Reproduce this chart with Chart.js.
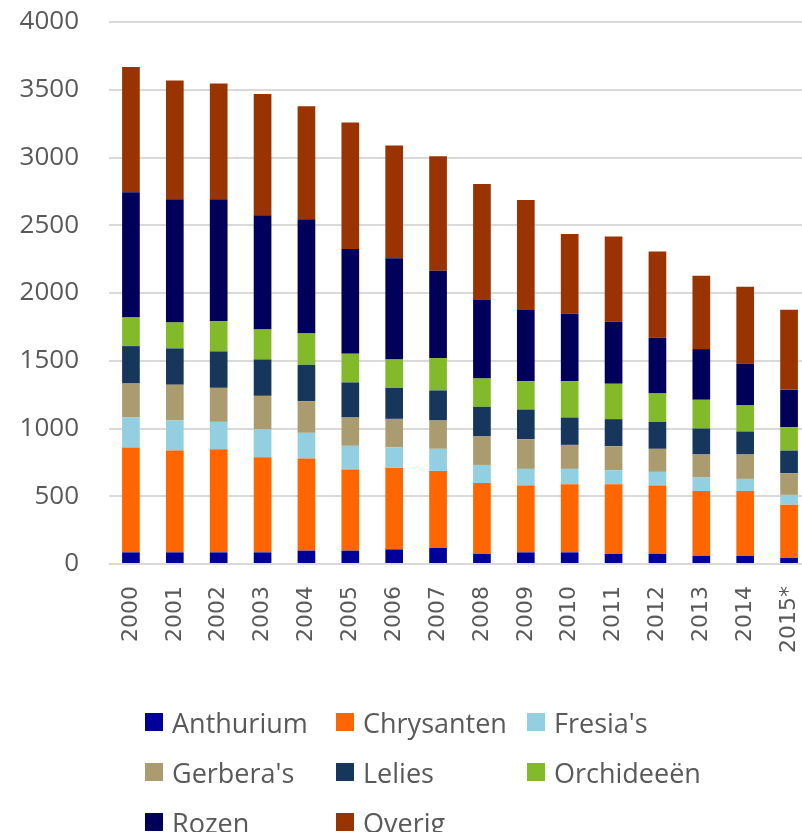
<!DOCTYPE html>
<html>
<head>
<meta charset="utf-8">
<script src="https://cdn.jsdelivr.net/npm/chart.js@4"></script>
<style>
  body { margin: 0; width: 802px; height: 832px; overflow: hidden; background: #fff; }
  #wrap { position: relative; width: 812px; height: 690px; }
  #legenda { position: absolute; left: 0; top: 0; width: 802px; height: 832px; pointer-events: none; }
  .item { position: absolute; display: flex; align-items: center; height: 36px; font-family: "Open Sans", sans-serif; font-size: 27px; color: #595959; white-space: nowrap; }
  .item span.box { display: inline-block; width: 18px; height: 18px; margin-right: 9px; }
</style>
</head>
<body>
<div id="wrap"><canvas id="grafiek" width="812" height="690"></canvas></div>
<div id="legenda"></div>
<script>
const jaren = ['2000', '2001', '2002', '2003', '2004', '2005', '2006', '2007',
               '2008', '2009', '2010', '2011', '2012', '2013', '2014', '2015*'];

const anthurium  = [86, 86, 86, 86, 99, 99, 108, 118, 74, 86, 86, 74, 74, 59, 59, 44];
const chrysanten = [774, 751, 761, 702, 679, 598, 601, 569, 524, 493, 503, 515, 505, 480, 480, 394];
const fresias    = [221, 222, 202, 205, 190, 175, 153, 163, 133, 123, 113, 103, 101, 99, 89, 72];
const gerberas   = [251, 264, 251, 248, 234, 209, 209, 209, 210, 219, 177, 177, 170, 170, 180, 160];
const lelies     = [276, 268, 269, 269, 268, 259, 229, 222, 219, 219, 202, 200, 199, 192, 170, 167];
const orchideeen = [212, 192, 224, 221, 232, 212, 210, 239, 209, 210, 269, 261, 210, 212, 192, 173];
const rozen      = [924, 909, 899, 843, 842, 773, 746, 645, 580, 525, 496, 457, 410, 374, 308, 277];
const overig     = [923, 877, 855, 894, 835, 934, 833, 845, 855, 811, 590, 630, 637, 541, 569, 590];

const yTicks = [0, 500, 1000, 1500, 2000, 2500, 3000, 3500, 4000];

const reeksen = [
    { label: 'Anthurium',  data: anthurium,  kleur: '#000099' },
    { label: 'Chrysanten', data: chrysanten, kleur: '#FF6600' },
    { label: "Fresia's",   data: fresias,    kleur: '#92CFE1' },
    { label: "Gerbera's",  data: gerberas,   kleur: '#AB9C6F' },
    { label: 'Lelies',     data: lelies,     kleur: '#16365C' },
    { label: 'Orchideeën', data: orchideeen, kleur: '#83BA29' },
    { label: 'Rozen',      data: rozen,      kleur: '#00005A' },
    { label: 'Overig',     data: overig,     kleur: '#993300' }
];

const ctx = document.getElementById('grafiek').getContext('2d');

const grafiek = new Chart(ctx, {
    type: 'bar',
    data: {
        labels: jaren,
        datasets: reeksen.map(r => ({
            label: r.label,
            data: r.data,
            backgroundColor: r.kleur,
            borderWidth: 0,
            categoryPercentage: 1,
            barPercentage: 0.403
        }))
    },
    options: {
        responsive: false,
        animation: false,
        devicePixelRatio: 1,
        layout: { padding: { top: 22, right: 1, bottom: 0, left: 0 } },
        plugins: {
            legend: { display: false },
            tooltip: { enabled: false }
        },
        scales: {
            x: {
                stacked: true,
                grid: { display: false, drawTicks: false },
                border: { display: false },
                ticks: {
                    autoSkip: false,
                    minRotation: 90,
                    maxRotation: 90,
                    padding: 22,
                    color: '#595959',
                    font: { family: 'DejaVu Sans', size: 22 }
                },
                afterFit: function (scale) {
                    scale.height = 126;
                    scale.paddingLeft = 0;
                    scale.paddingRight = 0;
                }
            },
            y: {
                stacked: true,
                min: 0,
                max: 4000,
                afterBuildTicks: function (scale) {
                    scale.ticks = yTicks.map(v => ({ value: v }));
                },
                grid: { color: '#D9D9D9', lineWidth: 2, drawTicks: false },
                border: { display: false },
                ticks: {
                    padding: 30,
                    color: '#595959',
                    font: { family: 'Open Sans', size: 26 },
                    callback: function (value) { return String(value); }
                },
                afterFit: function (scale) {
                    scale.width = 109;
                    scale.paddingTop = 0;
                    scale.paddingBottom = 0;
                }
            }
        }
    }
});

// legenda in drie kolommen, zoals in het origineel
const legenda = document.getElementById('legenda');
grafiek.data.datasets.forEach((ds, i) => {
    const kol = i === 7 ? 1 : i % 3;
    const rij = Math.floor(i / 3);
    const el = document.createElement('div');
    el.className = 'item';
    el.style.left = (145 + kol * 191) + 'px';
    el.style.top = (704 + rij * 50) + 'px';
    el.innerHTML = '<span class="box" style="background:' + ds.backgroundColor + '"></span>' + ds.label;
    legenda.appendChild(el);
});
</script>
</body>
</html>
